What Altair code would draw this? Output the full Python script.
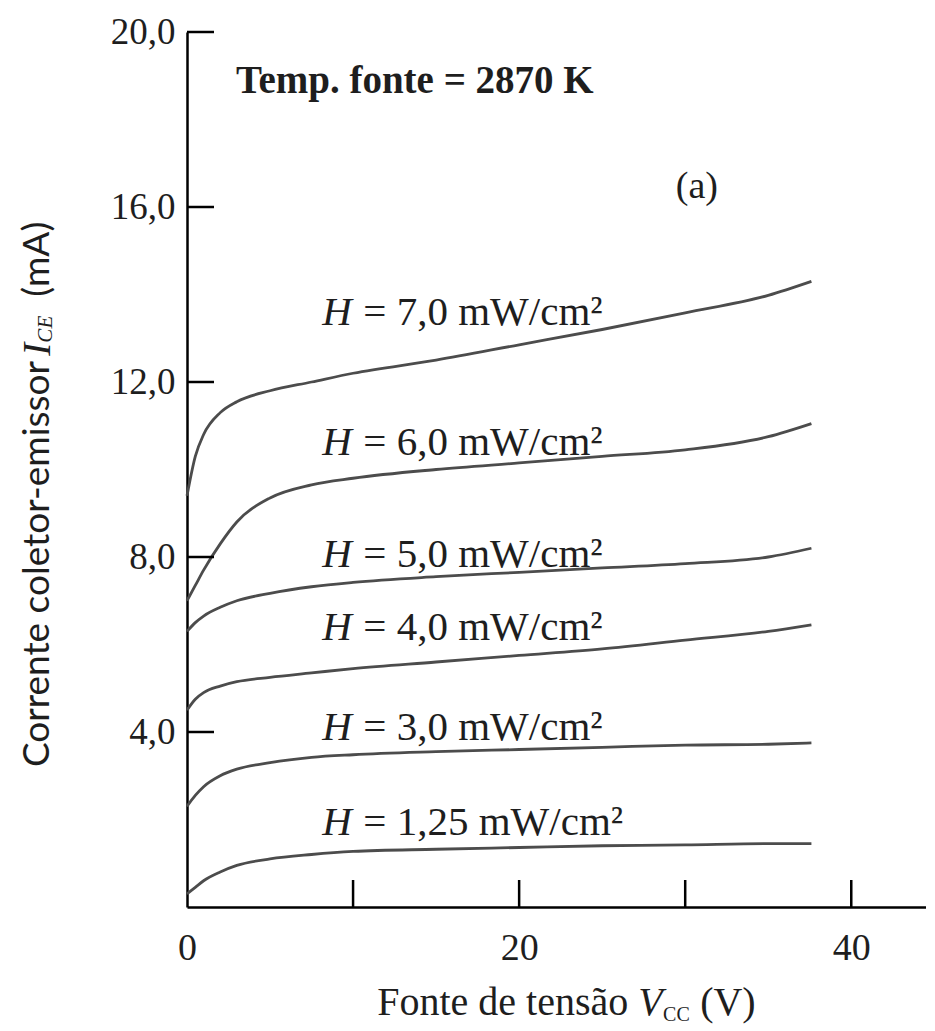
import altair as alt
import pandas as pd

# ---------------- data ----------------
V_CC = [0, 0.5, 1, 2, 3, 5, 7.5, 10, 15, 20, 25, 30, 35, 37.6]

I_H700 = [9.4, 10.3, 10.8, 11.3, 11.55, 11.8, 12.0, 12.2, 12.5, 12.85, 13.2, 13.58, 13.98, 14.3]
I_H600 = [7.0, 7.35, 7.7, 8.3, 8.8, 9.35, 9.65, 9.8, 10.0, 10.15, 10.3, 10.45, 10.75, 11.05]
I_H500 = [6.3, 6.5, 6.65, 6.85, 7.0, 7.17, 7.32, 7.42, 7.55, 7.65, 7.75, 7.85, 8.0, 8.2]
I_H400 = [4.5, 4.75, 4.9, 5.05, 5.15, 5.25, 5.35, 5.45, 5.6, 5.75, 5.9, 6.1, 6.3, 6.45]
I_H300 = [2.3, 2.55, 2.75, 3.0, 3.15, 3.3, 3.42, 3.48, 3.55, 3.6, 3.65, 3.7, 3.72, 3.75]
I_H125 = [0.3, 0.45, 0.6, 0.8, 0.95, 1.1, 1.2, 1.27, 1.32, 1.36, 1.4, 1.42, 1.45, 1.45]

SERIES_NAMES = ["7,0", "6,0", "5,0", "4,0", "3,0", "1,25"]
SERIES_VALUES = [I_H700, I_H600, I_H500, I_H400, I_H300, I_H125]

# curve label anchors (V, mA)
LABEL_TEXT = ["= 7,0 mW/cm²", "= 6,0 mW/cm²", "= 5,0 mW/cm²",
              "= 4,0 mW/cm²", "= 3,0 mW/cm²", "= 1,25 mW/cm²"]
LABEL_X = [8.15, 8.15, 8.15, 8.15, 8.15, 8.15]
LABEL_Y = [13.3, 10.33, 7.77, 6.1, 3.82, 1.65]

X_TICKS = [10, 20, 30, 40]
X_LABELS = [0, 20, 40]
Y_TICKS = [4, 8, 12, 16, 20]

X_DOMAIN = [0, 44.5]
Y_DOMAIN = [0, 20]

# annotation texts
TEMP_TEXT = ["Temp. fonte = 2870 K"]
TEMP_POS = [(2.95, 18.6)]
PANEL_TEXT = ["(a)"]
PANEL_POS = [(30.7, 16.2)]

# axis titles, split into pieces (text, x, y)
YT_MAIN = [("Corrente coletor-emissor", -8.98, 3.2)]
YT_I = [("I", -8.98, 12.6)]
YT_SUB = [("CE", -8.98, 12.9)]
YT_UNIT = [("(mA)", -8.98, 13.95)]
XT_MAIN = [("Fonte de tensão", 11.45, -2.47)]
XT_V = [("V", 27.17, -2.47)]
XT_SUB = [("CC", 28.67, -2.47)]
XT_UNIT = [("(V)", 30.9, -2.47)]

W, H = 739, 875
SERIF = "Liberation Serif"
SANS = "Lato"
INK = "#1e1e1e"

# ---------------- tables ----------------
rows = []
for name, vals in zip(SERIES_NAMES, SERIES_VALUES):
    for v, i in zip(V_CC, vals):
        rows.append({"H": name, "V": v, "I": i})
curves = pd.DataFrame(rows)

labels = pd.DataFrame({"text": LABEL_TEXT, "x": LABEL_X, "y": LABEL_Y})

xs = alt.Scale(domain=X_DOMAIN, nice=False, zero=False)
ys = alt.Scale(domain=Y_DOMAIN, nice=False, zero=False)

base_x = alt.X("V:Q", scale=xs,
               axis=alt.Axis(values=X_LABELS, title=None, ticks=False, grid=False,
                             labelFont=SERIF, labelFontSize=38, labelColor=INK,
                             labelPadding=22, domainColor="black", domainWidth=2.5,
                             labelFlush=False))
base_y = alt.Y("I:Q", scale=ys,
               axis=alt.Axis(values=Y_TICKS, title=None, ticks=False, grid=False,
                             labelFont=SERIF, labelFontSize=37, labelColor=INK,
                             labelPadding=12, domainColor="black", domainWidth=2.5,
                             labelFlush=False,
                             labelExpr="replace(format(datum.value, '.1f'), '.', ',')"))

lines = alt.Chart(curves).mark_line(
    color="#4c4c4c", strokeWidth=2.8, interpolate="monotone", clip=False
).encode(x=base_x, y=base_y, detail="H:N")

yticks = alt.Chart(pd.DataFrame({"I": Y_TICKS})).mark_rule(
    color="black", strokeWidth=2.5
).encode(y=alt.Y("I:Q", scale=ys), x=alt.value(0), x2=alt.value(27))

xticks = alt.Chart(pd.DataFrame({"V": X_TICKS})).mark_rule(
    color="black", strokeWidth=2.5
).encode(x=alt.X("V:Q", scale=xs), y=alt.value(H), y2=alt.value(H - 27))

lab_h = alt.Chart(labels).mark_text(
    text="H", font=SERIF, fontStyle="italic", fontSize=41, align="left",
    baseline="alphabetic", color=INK
).encode(x=alt.X("x:Q", scale=xs), y=alt.Y("y:Q", scale=ys))

lab_rest = alt.Chart(labels).mark_text(
    font=SERIF, fontSize=41, align="left", baseline="alphabetic", color=INK, dx=41
).encode(x=alt.X("x:Q", scale=xs), y=alt.Y("y:Q", scale=ys), text="text:N")


def ann(items, **kw):
    df = pd.DataFrame(items, columns=["text", "x", "y"])
    return alt.Chart(df).mark_text(clip=False, color=INK, **kw).encode(
        x=alt.X("x:Q", scale=xs), y=alt.Y("y:Q", scale=ys), text="text:N")


temp = ann([(t, p[0], p[1]) for t, p in zip(TEMP_TEXT, TEMP_POS)],
           font=SERIF, fontWeight="bold", fontSize=39, align="left", baseline="alphabetic")
panel = ann([(t, p[0], p[1]) for t, p in zip(PANEL_TEXT, PANEL_POS)],
            font=SERIF, fontSize=38, align="center", baseline="alphabetic")

yt1 = ann(YT_MAIN, font=SANS, fontSize=37, angle=270, align="left", baseline="middle")
yt2 = ann(YT_I, font=SERIF, fontStyle="italic", fontSize=39, angle=270, align="left",
          baseline="middle")
yt3 = ann(YT_SUB, font=SERIF, fontStyle="italic", fontSize=21, angle=270, align="left",
          baseline="middle", dy=8)
yt4 = ann(YT_UNIT, font=SANS, fontSize=37, angle=270, align="left", baseline="middle")

xt1 = ann(XT_MAIN, font=SERIF, fontSize=40, align="left", baseline="alphabetic")
xt2 = ann(XT_V, font=SERIF, fontStyle="italic", fontSize=40, align="left", baseline="alphabetic")
xt3 = ann(XT_SUB, font=SERIF, fontSize=20, align="left", baseline="alphabetic", dy=6)
xt4 = ann(XT_UNIT, font=SERIF, fontSize=40, align="left", baseline="alphabetic")

chart = alt.layer(
    lines, yticks, xticks, lab_h, lab_rest, temp, panel,
    yt1, yt2, yt3, yt4, xt1, xt2, xt3, xt4
).properties(
    width=W, height=H,
    autosize=alt.AutoSizeParams(type="none"),
    padding={"left": 179, "top": 24, "right": 0, "bottom": 122},
    background="white",
).configure_view(stroke=None)

chart.save("out.html", embed_options={"renderer": "svg", "actions": False})
